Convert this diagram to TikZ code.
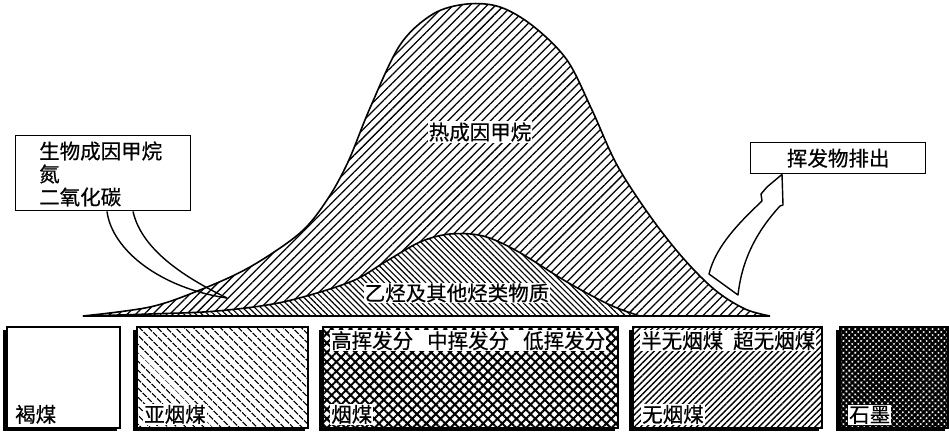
\documentclass[tikz,border=0pt]{standalone}
\usepackage{fontspec}
\newfontfamily\cjk{Noto Sans CJK SC}[FakeBold=0.6]
\usetikzlibrary{patterns.meta}
\tikzset{
  lbl/.style={font=\cjk\fontsize{20.5}{24}\selectfont, inner sep=1pt},
  wlbl/.style={lbl, fill=white},
  coalbox/.style={draw=black, line width=1.4pt},
  shade/.style={fill=black},
  callout/.style={draw=black, line width=1.4pt, fill=white},
  outl/.style={draw=black, line width=1.6pt},
}
\begin{document}
\begin{tikzpicture}[x=1pt,y=-1pt]
\useasboundingbox (0,0) rectangle (949,433);
% big curve (thermogenic methane)
\def\bigcurve{plot[smooth, tension=0.55] coordinates {(83,316) (150,307) (200,290) (250,267) (300,233) (327,200) (348,162) (370,108) (400,45) (433,14) (467,4) (500,7) (533,26) (567,60) (592,110) (617,165) (650,216) (683,258) (715,290) (745,309) (770,316)} -- cycle}
\def\smallcurve{plot[smooth, tension=0.55] coordinates {(83,316) (150,314) (217,311) (283,302) (350,282) (385,262) (420,242) (450,234) (483,236) (517,251) (567,282) (610,305) (640,316)} -- cycle}
\path[pattern={Lines[angle=45,distance=6pt,line width=1.25pt]}] \bigcurve;
\path[fill=white] \smallcurve;
\path[pattern={Lines[angle=-45,distance=4.2pt,line width=1.15pt]}] \smallcurve;
\path[outl] \bigcurve;
\path[outl] \smallcurve;
\draw[line width=2pt] (83,316) -- (770,316);
\node[wlbl] (thermo) at (480,132) {热成因甲烷};
\node[wlbl] (ethane) at (457,293) {乙烃及其他烃类物质};

% left callout
\node[callout, minimum width=175pt, minimum height=75pt, anchor=north west] (bio) at (15,135) {};
\node[lbl, anchor=west] (bio1) at (38,151) {生物成因甲烷};
\node[lbl, anchor=west] (bio2) at (38,174) {氮};
\node[lbl, anchor=west] (bio3) at (38,197) {二氧化碳};
\coordinate (biotip) at (227,298);
\draw[line width=1.4pt] ([xshift=92pt]bio.south west) .. controls (112,250) and (160,288) .. (biotip);
\draw[line width=1.4pt] ([xshift=118pt]bio.south west) .. controls (142,252) and (190,280) .. (biotip);

% right callout
\node[callout, minimum width=175pt, minimum height=31pt, anchor=north west] (vol) at (750,142) {};
\node[lbl] (voltext) at (vol.center) {挥发物排出};
\draw[line width=1.4pt, fill=white, line join=round]
  (vol.south west -| 782,0) -- (783,205) -- (780,206) .. controls (758,230) and (742,258) .. (738,295)
  -- (709,274) .. controls (716,245) and (742,220) .. (762,201)
  -- (761,194) -- (767,187) -- cycle;

% coal rank boxes
\fill[shade] (3,330) rectangle (117,431);
\draw[coalbox, fill=white] (7,327) rectangle (120,428);
\node[wlbl, anchor=south west] (lignite) at (14,425) {褐煤};

\fill[shade] (133,330) rectangle (305,431);
\fill[white] (137,327) rectangle (308,428);
\draw[coalbox, pattern={Lines[angle=-45,distance=6.5pt,line width=1.4pt]}] (137,327) rectangle (308,428);
\node[wlbl, anchor=south west] (subbit) at (143,425) {亚烟煤};

\fill[shade] (319,330) rectangle (615,431);
\fill[white] (323,327) rectangle (618,428);
\draw[coalbox, pattern={Hatch[angle=45,distance=6.7pt,line width=2pt]}] (323,327) rectangle (618,428);
\node[wlbl, anchor=north west, text width=274pt] (volstrip) at (330,330) {高挥发分\hfill 中挥发分\hfill 低挥发分};
\node[wlbl, anchor=south west] (bit) at (330,425) {烟煤};

\fill[shade] (629,330) rectangle (819,431);
\fill[white] (633,327) rectangle (822,428);
\draw[coalbox, pattern={Lines[angle=45,distance=4.4pt,line width=1.4pt]}] (633,327) rectangle (822,428);
\node[wlbl, anchor=north west, text width=174pt] (anth1) at (640,330) {半无烟煤\hfill 超无烟煤};
\node[wlbl, anchor=south west] (anth) at (641,425) {无烟煤};

\fill[shade] (836,330) rectangle (945,431);
\fill[white] (840,327) rectangle (948,428);
\draw[coalbox, pattern={Hatch[angle=45,distance=4.2pt,line width=2.4pt]}] (840,327) rectangle (948,428);
\node[wlbl, anchor=south west] (graph) at (848,425) {石墨};
\end{tikzpicture}
\end{document}
